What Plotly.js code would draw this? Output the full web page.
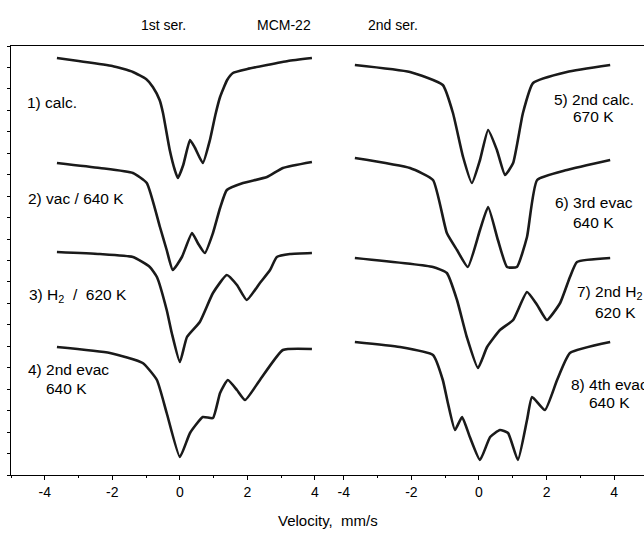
<!DOCTYPE html>
<html>
<head>
<meta charset="utf-8">
<script src="https://cdn.plot.ly/plotly-3.0.1.min.js"></script>
<style>html,body{margin:0;padding:0;background:#fff;}#chart{width:644px;height:533px;}</style>
</head>
<body>
<div id="chart"></div>
<script>
// Velocity (mm/s) and relative transmission (arbitrary units, offset stacked)
const v1 = [-3.64,-3.0,-2.0,-1.39,-1.0,-0.8,-0.6,-0.5,-0.3,-0.15,-0.06,0.1,0.3,0.45,0.68,0.89,1.05,1.19,1.4,1.57,2.0,2.58,3.2,3.91];
const t1 = [417,414,409,403,396,388,375,362,325,305,297,310,335,327,312,335,360,378,395,402,406,410,414,417];

const v2 = [-3.64,-2.37,-1.39,-0.98,-0.59,-0.39,-0.21,0.06,0.36,0.53,0.74,0.98,1.19,1.39,1.87,2.58,3.05,3.91];
const t2 = [312,307,302,292,248,225,205,218,242,232,222,242,267,285,292,298,307,313];

const v3 = [-3.64,-2.37,-1.39,-0.89,-0.68,-0.39,-0.24,0.0,0.21,0.59,0.98,1.39,1.69,1.98,2.37,2.67,2.87,3.26,3.91];
const t3 = [223,221,218,208,198,165,142,113,138,153,182,200,190,175,192,205,218,221,222];

const v4 = [-3.64,-2.07,-1.10,-0.68,-0.39,0.0,0.30,0.68,0.98,1.19,1.42,1.69,1.93,2.37,3.05,3.91];
const t4 = [128,122,112,95,62,18,42,58,57,82,95,85,75,95,125,126];

const v5 = [-3.67,-2.04,-1.07,-0.77,-0.47,-0.21,0.03,0.27,0.53,0.77,1.01,1.30,1.60,2.60,3.88];
const t5 = [410,403,390,362,318,292,315,345,325,300,312,362,392,403,410];

const v6 = [-3.67,-2.04,-1.36,-0.95,-0.65,-0.33,0.03,0.27,0.56,0.83,1.12,1.42,1.72,2.60,3.88];
const t6 = [317,307,295,242,225,208,245,268,235,208,208,238,295,305,315];

const v7 = [-3.67,-1.36,-0.95,-0.65,-0.36,-0.03,0.24,0.62,1.01,1.42,1.72,2.01,2.40,2.69,2.90,3.88];
const t7 = [217,208,202,175,138,107,128,145,155,183,170,155,172,198,213,217];

const v8 = [-3.67,-2.34,-1.36,-1.07,-0.92,-0.71,-0.50,-0.27,0.03,0.33,0.62,0.86,1.15,1.42,1.57,1.95,2.31,2.69,3.88];
const t8 = [133,128,120,95,72,45,58,38,15,38,45,42,15,55,78,65,95,122,133];

const tickVals = [-4,-2,0,2,4];
const tickText = ['-4','-2','0','2','4'];

const W = 644, H = 533, T = 46, B = 475;
const px = x => x / W;
const py = y => (B - y) / (B - T);

const lineStyle = {color:'#1a1a1a', width:2.6, shape:'spline', smoothing:0.45};
function tr(x, y, xa){ return {x:x, y:y, xaxis:xa, yaxis:'y', mode:'lines', line:lineStyle, hoverinfo:'skip', showlegend:false}; }

const data = [
  tr(v1,t1,'x'), tr(v2,t2,'x'), tr(v3,t3,'x'), tr(v4,t4,'x'),
  tr(v5,t5,'x2'), tr(v6,t6,'x2'), tr(v7,t7,'x2'), tr(v8,t8,'x2')
];

const font = {family:'Liberation Sans, Arial, sans-serif', size:14, color:'#000'};
const lblFont = {family:'Liberation Sans, Arial, sans-serif', size:15.5, color:'#000'};

function axisX(domain, range){
  return {domain:domain, range:range, anchor:'y', tickvals:tickVals, ticktext:tickText,
    ticks:'outside', ticklen:4, tickcolor:'#000', tickwidth:1,
    minor:{dtick:1, ticks:'outside', ticklen:2, tickcolor:'#000'},
    showline:true, linecolor:'#000', linewidth:1, mirror:true,
    showgrid:false, zeroline:false, tickfont:font, fixedrange:true};
}

function ann(text, x, y, xanchor){
  return {text:text, x:px(x), y:py(y), xref:'paper', yref:'paper', xanchor:xanchor||'left', yanchor:'middle', showarrow:false, font:lblFont};
}
function hdr(text, x, y){
  return {text:text, x:px(x), y:py(y), xref:'paper', yref:'paper', xanchor:'center', yanchor:'middle', showarrow:false, font:font};
}

const layout = {
  width:W, height:H,
  margin:{l:0, r:0, t:T, b:H-B, pad:0},
  paper_bgcolor:'#fff', plot_bgcolor:'#fff',
  xaxis: axisX([11/W, 317/W], [-5.0, 4.06]),
  xaxis2: axisX([317/W, 1], [-4.79, 4.88]),
  yaxis: {domain:[0,1], range:[0,429], anchor:'x', showline:true, linecolor:'#000', linewidth:1,
    ticks:'outside', ticklen:3, tickcolor:'#000', dtick:21.45, tick0:0, showticklabels:false,
    showgrid:false, zeroline:false, fixedrange:true},
  annotations:[
    hdr('1st ser.', 163, 25),
    hdr('MCM-22', 284, 25),
    hdr('2nd ser.', 393, 25),
    {text:'Velocity,&nbsp; mm/s', x:px(328), y:py(520), xref:'paper', yref:'paper', xanchor:'center', yanchor:'middle', showarrow:false, font:{family:'Liberation Sans, Arial, sans-serif', size:15, color:'#000'}},
    ann('1) calc.', 25, 102),
    ann('2) vac / 640 K', 26, 198),
    ann('3) H<sub>2</sub>&nbsp; /&nbsp; 620 K', 27, 295),
    ann('4) 2nd evac', 26, 369),
    ann('640 K', 44, 388),
    ann('5) 2nd calc.', 552, 100),
    ann('670 K', 571, 117),
    ann('6) 3rd evac', 553, 202),
    ann('640 K', 571, 222),
    ann('7) 2nd H<sub>2</sub>', 575, 292),
    ann('620 K', 593, 312),
    ann('8) 4th evac', 569, 384),
    ann('640 K', 587, 402)
  ]
};

Plotly.newPlot('chart', data, layout, {staticPlot:true, displayModeBar:false});
</script>
</body>
</html>
